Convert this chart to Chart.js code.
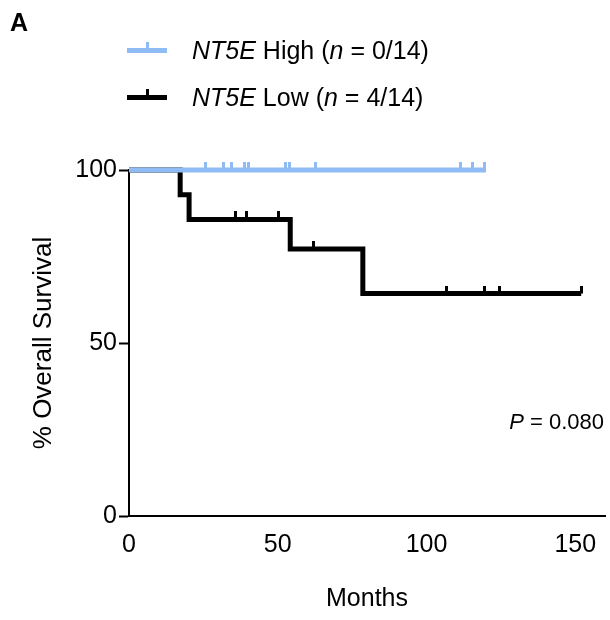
<!DOCTYPE html>
<html lang="en">
<head>
    <meta charset="UTF-8">
    <title>NT5E Overall Survival</title>
    <script src="https://cdn.jsdelivr.net/npm/chart.js"></script>
    <style>
        body { margin: 0; background: #fff; font-family: "Liberation Sans", Arial, sans-serif; }
        #wrap { position: relative; width: 610px; height: 620px; }
        #chart { position: absolute; left: 0; top: 0; }
        .lbl { position: absolute; color: #000; white-space: nowrap; }
        #panel { left: 10px; top: 8px; font-size: 25px; font-weight: bold; }
        .leg { left: 127px; font-size: 25px; line-height: 30px; height: 30px; }
        .leg .swatch { display: inline-block; width: 40px; height: 5px; vertical-align: middle; margin-right: 25px; position: relative; top: -2px; }
        .leg .swatch i { position: absolute; left: 19px; top: -6px; width: 3px; height: 6px; }
        #pval { right: 6px; top: 409px; font-size: 22px; }
    </style>
</head>
<body>
<div id="wrap">
    <canvas id="chart" width="610" height="620"></canvas>
    <div id="panel" class="lbl">A</div>
    <div class="lbl leg" style="top:35px"><span class="swatch" style="background:#8fbcf5"><i style="background:#8fbcf5"></i></span><i>NT5E</i> High (<i>n</i> = 0/14)</div>
    <div class="lbl leg" style="top:82px"><span class="swatch" style="background:#000"><i style="background:#000"></i></span><i>NT5E</i> Low (<i>n</i> = 4/14)</div>
    <div id="pval" class="lbl"><i>P</i> = 0.080</div>
</div>

<script>
    // step points: time (months) where survival changes, and new survival (%)
    const highTimes = [0, 120];
    const highSurv = [100, 100];
    const highCensor = [25.6, 31.6, 34.6, 38.7, 40.2, 52.5, 54.1, 62.6, 111.4, 115.6, 119.6];

    const lowTimes = [0, 17.2, 20.2, 54.2, 78.6, 152];
    const lowSurv = [100, 92.86, 85.71, 77.14, 64.29, 64.29];
    const lowCensor = [35.9, 39.6, 50.2, 61.9, 106.6, 119.6, 124.6, 152];

    const xTicks = [0, 50, 100, 150];
    const yTicks = [0, 50, 100];

    const blue = '#8fbcf5';
    const black = '#000000';

    function stepLevel(times, surv, t) {
        let s = surv[0];
        for (let i = 0; i < times.length; i++) {
            if (times[i] <= t) s = surv[i];
        }
        return s;
    }

    // upward censor tick, centred on the point so only the top half shows
    function censorMark(color, w, h) {
        const c = document.createElement('canvas');
        c.width = w;
        c.height = h * 2;
        const g = c.getContext('2d');
        g.fillStyle = color;
        g.fillRect(0, 0, w, h);
        return c;
    }

    const pts = (xs, ys) => xs.map((x, i) => ({ x: x, y: ys[i] }));

    new Chart(document.getElementById('chart').getContext('2d'), {
        type: 'scatter',
        data: {
            datasets: [
                {
                    type: 'line', data: pts(highTimes, highSurv), stepped: true,
                    borderColor: blue, borderWidth: 5, pointRadius: 0, fill: false,
                    borderCapStyle: 'butt', borderJoinStyle: 'miter', clip: false
                },
                {
                    data: highCensor.map(t => ({ x: t, y: stepLevel(highTimes, highSurv, t) })),
                    pointStyle: censorMark(blue, 3, 8), clip: false
                },
                {
                    type: 'line', data: pts(lowTimes, lowSurv), stepped: true,
                    borderColor: black, borderWidth: 5, pointRadius: 0, fill: false,
                    borderCapStyle: 'butt', borderJoinStyle: 'miter', clip: false
                },
                {
                    data: lowCensor.map(t => ({ x: t, y: stepLevel(lowTimes, lowSurv, t) })),
                    pointStyle: censorMark(black, 3, 8), clip: false
                }
            ]
        },
        options: {
            responsive: false,
            animation: false,
            layout: { padding: { left: 28, right: 0, top: 170, bottom: 6 } },
            plugins: { legend: { display: false }, tooltip: { enabled: false } },
            scales: {
                x: {
                    type: 'linear', min: 0, max: 160,
                    afterBuildTicks: s => { s.ticks = xTicks.map(v => ({ value: v })); },
                    grid: { display: false, drawOnChartArea: false, drawTicks: true, tickLength: 10, tickWidth: 2, tickColor: '#000' },
                    border: { color: '#000', width: 2 },
                    ticks: { color: '#000', font: { family: 'Liberation Sans', size: 25 }, padding: 4, maxRotation: 0 },
                    title: { display: true, text: 'Months', color: '#000', font: { family: 'Liberation Sans', size: 25 }, padding: { top: 20, bottom: 0 } }
                },
                y: {
                    min: 0, max: 100,
                    afterBuildTicks: s => { s.ticks = yTicks.map(v => ({ value: v })); },
                    grid: { display: true, drawOnChartArea: false, drawTicks: true, tickLength: 10, tickWidth: 2, tickColor: '#000' },
                    border: { color: '#000', width: 2 },
                    ticks: { color: '#000', font: { family: 'Liberation Sans', size: 25 }, padding: 2 },
                    title: { display: true, text: '% Overall Survival', color: '#000', font: { family: 'Liberation Sans', size: 26 }, padding: { top: 0, bottom: 8 } },
                    afterFit: s => { s.width = 101; }
                }
            }
        }
    });
</script>
</body>
</html>
